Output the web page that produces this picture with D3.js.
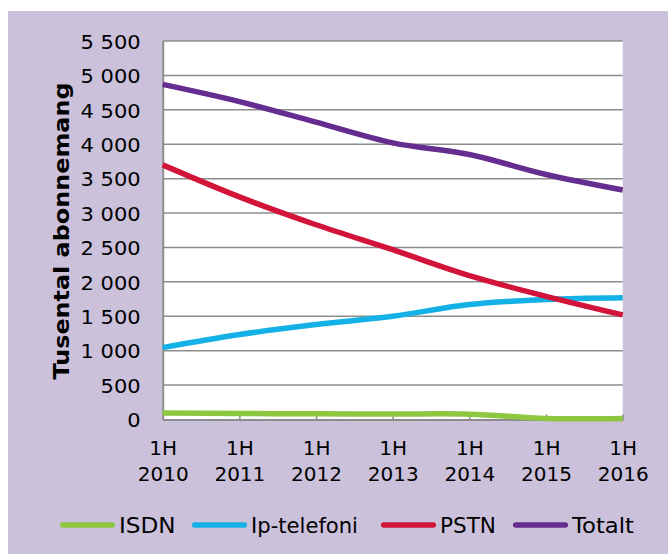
<!DOCTYPE html>
<html>
<head>
<meta charset="utf-8">
<script src="https://cdn.jsdelivr.net/npm/d3@7"></script>
<style>
  html, body { margin: 0; padding: 0; background: #ffffff; }
  svg { display: block; }
  text { font-family: "DejaVu Sans", Verdana, sans-serif; fill: #000; }
</style>
</head>
<body>
<svg id="chart" width="668" height="554"></svg>
<script>
const categories = ["1H 2010", "1H 2011", "1H 2012", "1H 2013", "1H 2014", "1H 2015", "1H 2016"];
const isdn      = [95, 88, 82, 80, 78, 15, 15];
const ipTelefon = [1045, 1235, 1380, 1500, 1670, 1745, 1770];
const pstn      = [3700, 3235, 2830, 2467, 2090, 1790, 1520];
const totalt    = [4870, 4620, 4320, 4020, 3850, 3560, 3335];
const seriesNames = ["ISDN", "Ip-telefoni", "PSTN", "Totalt"];
const seriesColors = ["#8DC63F", "#14B1E7", "#D2143A", "#662D91"];
const yTicks = [0, 500, 1000, 1500, 2000, 2500, 3000, 3500, 4000, 4500, 5000, 5500];
const yTitle = "Tusental abonnemang";

const seriesValues = [isdn, ipTelefon, pstn, totalt];

const svg = d3.select("#chart");
svg.append("rect").attr("x", 8).attr("y", 11).attr("width", 660).attr("height", 543).attr("fill", "#CBC1DB");

const x0 = 162.7, x1 = 622.7, yTop = 41, yBot = 419.5;
const x = d3.scalePoint().domain(categories).range([x0, x1]);
const y = d3.scaleLinear().domain([0, 5500]).range([yBot, yTop]);

svg.append("rect").attr("x", x0).attr("y", yTop).attr("width", x1 - x0).attr("height", yBot - yTop).attr("fill", "#ffffff");

// gridlines
svg.append("g").selectAll("line").data(yTicks.filter(d => d > 0)).join("line")
  .attr("x1", x0).attr("x2", x1)
  .attr("y1", d => y(d)).attr("y2", d => y(d))
  .attr("stroke", "#8C8C8C").attr("stroke-width", 1.5);

// y axis
const yAxis = d3.axisLeft(y).tickValues(yTicks).tickSize(0).tickPadding(22)
  .tickFormat(d => d3.format(",")(d).replace(/,/g, " "));
const gy = svg.append("g").attr("transform", `translate(${x0},0)`).call(yAxis);
gy.select(".domain").attr("stroke", "#8C8C8C").attr("stroke-width", 2);
gy.selectAll("text").attr("font-size", 20).attr("font-family", "DejaVu Sans").attr("fill", "#000")
  .attr("dy", "0.36em");
gy.selectAll("text").each(function() {
  const w = this.getComputedTextLength();
  d3.select(this).attr("textLength", w * 1.05).attr("lengthAdjust", "spacingAndGlyphs");
});

// x axis
const xAxis = d3.axisBottom(x).tickSize(0).tickFormat("");
const gx = svg.append("g").attr("transform", `translate(0,${yBot})`).call(xAxis);
gx.select(".domain").attr("stroke", "#8C8C8C").attr("stroke-width", 2);
gx.selectAll(".tick").append("line").attr("y1", -5).attr("y2", 0).attr("stroke", "#8C8C8C").attr("stroke-width", 1.5);
gx.selectAll(".tick").each(function(d) {
  const parts = d.split(" ");
  const t = d3.select(this).append("text").attr("text-anchor", "middle").attr("font-size", 20).attr("fill", "#000");
  t.append("tspan").attr("x", 0).attr("y", 35).text(parts[0]);
  t.append("tspan").attr("x", 0).attr("y", 61).text(parts[1]);
});

// y title
svg.append("text").attr("transform", `translate(69,231) rotate(-90)`)
  .attr("text-anchor", "middle").attr("font-size", 22).attr("font-weight", "bold")
  .attr("textLength", 297).attr("lengthAdjust", "spacingAndGlyphs")
  .text(yTitle);

// lines
const line = d3.line().x((d, i) => x(categories[i])).y(d => y(d)).curve(d3.curveCatmullRom.alpha(0.5));
svg.append("g").selectAll("path").data(seriesValues).join("path")
  .attr("d", d => line(d)).attr("fill", "none")
  .attr("stroke", (d, i) => seriesColors[i]).attr("stroke-width", 5.5)
  .attr("stroke-linejoin", "round");

// legend
const legendX = [60, 192, 381, 513];
const legendW = [56.7, 107, 56, 62];
const lg = svg.append("g").selectAll("g").data(seriesNames).join("g")
  .attr("transform", (d, i) => `translate(${legendX[i]},525)`);
lg.append("line").attr("x1", 2.7).attr("x2", 52.3).attr("y1", 0).attr("y2", 0)
  .attr("stroke", (d, i) => seriesColors[i]).attr("stroke-width", 5.5).attr("stroke-linecap", "round");
lg.append("text").attr("x", 59).attr("y", 0).attr("dy", "0.36em").attr("font-size", 21)
  .attr("textLength", (d, i) => legendW[i]).attr("lengthAdjust", "spacingAndGlyphs")
  .text(d => d);
</script>
</body>
</html>
